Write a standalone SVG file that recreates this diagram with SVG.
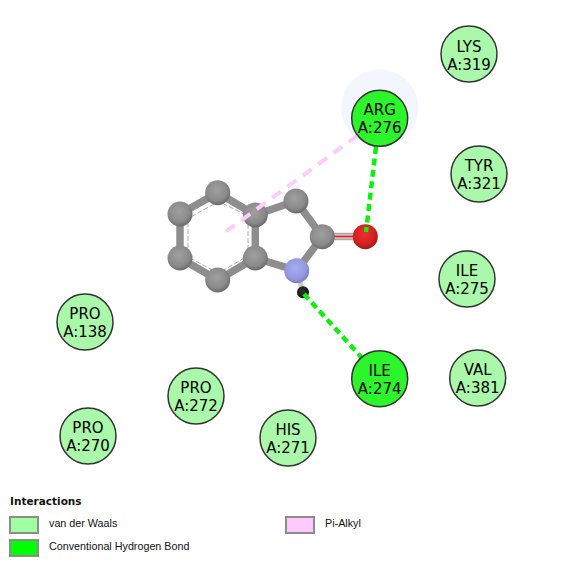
<svg xmlns="http://www.w3.org/2000/svg" width="565" height="566" viewBox="0 0 565 566">
<defs>
<radialGradient id="gc" cx="0.45" cy="0.4" r="0.6"><stop offset="0" stop-color="#a0a0a0"/><stop offset="0.7" stop-color="#8a8a8a"/><stop offset="1" stop-color="#6a6a6a"/></radialGradient>
<radialGradient id="gn" cx="0.45" cy="0.4" r="0.6"><stop offset="0" stop-color="#a6acf2"/><stop offset="0.7" stop-color="#9499df"/><stop offset="1" stop-color="#7a7fc0"/></radialGradient>
<radialGradient id="go" cx="0.45" cy="0.4" r="0.6"><stop offset="0" stop-color="#ee3030"/><stop offset="0.7" stop-color="#d42020"/><stop offset="1" stop-color="#a01818"/></radialGradient>
<radialGradient id="gh" cx="0.45" cy="0.4" r="0.6"><stop offset="0" stop-color="#333"/><stop offset="1" stop-color="#111"/></radialGradient>
</defs>
<style>
.res{stroke:#333;stroke-width:1.5}
.vdw{fill:#aaf9aa}
.hb{fill:#2cf52c}
.lbl{font-family:"DejaVu Sans",sans-serif;font-size:15px;fill:#000;text-anchor:middle}
.bond{stroke:#8e8e8e;stroke-width:7.5;stroke-linecap:round;fill:none}
.inner{stroke:#aaa;stroke-width:1;stroke-dasharray:5 2;fill:none}
.hbl{stroke:#0cf00c;stroke-width:4.5;fill:none;stroke-dasharray:7 4.500}
.pi{stroke:#fdcdfd;stroke-width:4;fill:none;stroke-dasharray:11 8}
.cat{fill:url(#gc)}
.leg{font-family:"Liberation Sans","Open Sans",sans-serif;font-size:10.75px;fill:#111}
.box{stroke:#8c8c8c;stroke-width:2}
</style>
<circle cx="379.7" cy="107.7" r="38.5" fill="#f3f6fe"/>
<g id="ligand">
<path class="bond" d="M217.700 192.700L180 214V258L217.700 280L255.300 258V215ZM255.300 215L296 201L322.300 236.700L296.700 270.700L255.300 258"/>
<path class="inner" d="M214 204L189 218M188 222V252M190 258L214 271M222 271L246 257M248 250V222M246 215L222 203"/>
<path d="M322 233.800H358" stroke="#aaa" stroke-width="2"/>
<path d="M322 236.500H358" stroke="#e02020" stroke-width="2"/>
<path d="M322 239.300H358" stroke="#aaa" stroke-width="2"/>
<path d="M296.700 270.700L303 292.300" stroke="#ccc" stroke-width="5"/>
<circle class="cat" cx="217.700" cy="192.700" r="12.500"/>
<circle class="cat" cx="180" cy="214" r="12.500"/>
<circle class="cat" cx="180" cy="258" r="12.500"/>
<circle class="cat" cx="217.700" cy="280" r="12.500"/>
<circle class="cat" cx="255.300" cy="258" r="12.500"/>
<circle class="cat" cx="255.300" cy="215" r="12.500"/>
<circle class="cat" cx="296" cy="201" r="12.500"/>
<circle class="cat" cx="322.300" cy="236.700" r="12.500"/>
<circle cx="296.700" cy="270.700" r="12.500" fill="url(#gn)"/>
<circle cx="365.300" cy="236.700" r="12.500" fill="url(#go)"/>
<circle cx="303" cy="292.300" r="6" fill="url(#gh)"/>
</g>
<g id="connectors">
<path class="pi" d="M226 231.500L357 136"/>
<path class="hbl" d="M376 147L366 232"/>
<path class="hbl" d="M304 294L362 358"/>
</g>
<g id="arg276"><circle class="res hb" cx="379.700" cy="118.300" r="28"/><text class="lbl" x="379.700" y="115">ARG</text><text class="lbl" x="379.700" y="133">A:276</text></g>
<g id="ile274"><circle class="res hb" cx="379.700" cy="378.700" r="28"/><text class="lbl" x="379.700" y="376">ILE</text><text class="lbl" x="379.700" y="394">A:274</text></g>
<g id="lys319"><circle class="res vdw" cx="469" cy="54" r="28"/><text class="lbl" x="469" y="52">LYS</text><text class="lbl" x="469" y="70">A:319</text></g>
<g id="tyr321"><circle class="res vdw" cx="479" cy="174" r="28"/><text class="lbl" x="479" y="171">TYR</text><text class="lbl" x="479" y="189">A:321</text></g>
<g id="ile275"><circle class="res vdw" cx="467" cy="279" r="28"/><text class="lbl" x="467" y="276">ILE</text><text class="lbl" x="467" y="294">A:275</text></g>
<g id="val381"><circle class="res vdw" cx="477.700" cy="378" r="28"/><text class="lbl" x="477.700" y="375">VAL</text><text class="lbl" x="477.700" y="393">A:381</text></g>
<g id="pro138"><circle class="res vdw" cx="85" cy="322" r="28"/><text class="lbl" x="85" y="319">PRO</text><text class="lbl" x="85" y="337">A:138</text></g>
<g id="pro272"><circle class="res vdw" cx="196" cy="396" r="28"/><text class="lbl" x="196" y="393">PRO</text><text class="lbl" x="196" y="411">A:272</text></g>
<g id="his271"><circle class="res vdw" cx="288" cy="438" r="28"/><text class="lbl" x="288" y="435">HIS</text><text class="lbl" x="288" y="453">A:271</text></g>
<g id="pro270"><circle class="res vdw" cx="88" cy="436" r="28"/><text class="lbl" x="88" y="433">PRO</text><text class="lbl" x="88" y="451">A:270</text></g>
<g id="legend">
<text x="10" y="505" font-family="'DejaVu Sans',sans-serif" font-size="10.500" font-weight="700" fill="#111">Interactions</text>
<rect class="box" x="10" y="517" width="28" height="16" fill="#a0ffa0"/>
<text class="leg" x="49" y="527">van der Waals</text>
<rect class="box" x="10" y="540" width="28" height="16" fill="#00ff00"/>
<text class="leg" x="49" y="550">Conventional Hydrogen Bond</text>
<rect class="box" x="286" y="517" width="28" height="16" fill="#ffc8ff"/>
<text class="leg" x="325" y="527">Pi-Alkyl</text>
</g>
</svg>
